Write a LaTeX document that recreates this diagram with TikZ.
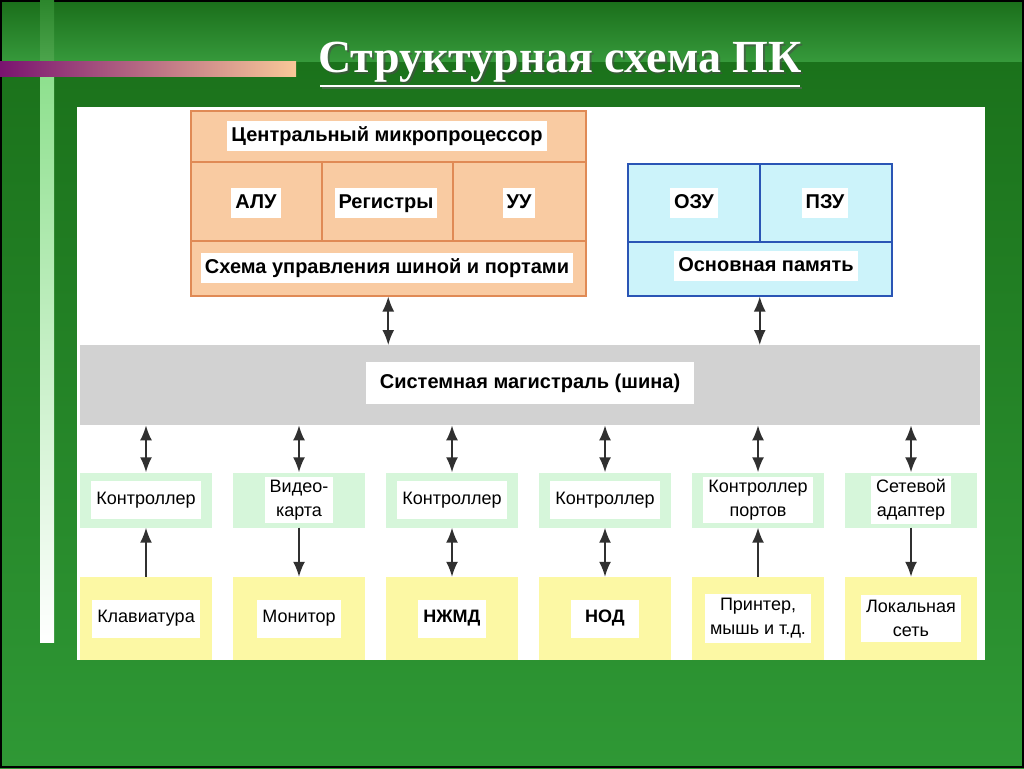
\documentclass[tikz,border=0pt]{standalone}
\usepackage{fontspec}
\setmainfont{Liberation Sans}
\newfontfamily\titlefont{Liberation Serif}
\usetikzlibrary{arrows.meta}
\definecolor{bgTop}{HTML}{1B721B}
\definecolor{bgBot}{HTML}{2F9835}
\definecolor{bandA}{HTML}{1A6E1A}
\definecolor{bandB}{HTML}{36993B}
\definecolor{cpufill}{HTML}{F9CBA2}
\definecolor{cpuline}{HTML}{E08A55}
\definecolor{memfill}{HTML}{CCF3FA}
\definecolor{memline}{HTML}{2A55B5}
\definecolor{busfill}{HTML}{D2D2D2}
\definecolor{ctlfill}{HTML}{D6F6DA}
\definecolor{devfill}{HTML}{FCF8A4}
\definecolor{arr}{HTML}{303030}
\definecolor{purp}{HTML}{7A1470}
\definecolor{peach}{HTML}{F8C898}
\definecolor{vbarTop}{HTML}{2C862C}
\definecolor{vbarMid}{HTML}{4CA54C}
\definecolor{vbarLow}{HTML}{8EE08E}
\tikzset{
  cpubox/.style={draw=cpuline, line width=1.5pt, fill=cpufill, anchor=north west, inner sep=0pt},
  membox/.style={draw=memline, line width=1.5pt, fill=memfill, anchor=north west, inner sep=0pt},
  busbox/.style={fill=busfill, anchor=north west, inner sep=0pt},
  ctlbox/.style={fill=ctlfill, minimum width=132pt, minimum height=55pt, inner sep=0pt},
  devbox/.style={fill=devfill, minimum width=132pt, minimum height=83pt, inner sep=0pt},
  lbl/.style={fill=white, inner xsep=4pt, inner ysep=5pt, text height=15pt, text depth=5pt, font=\fontsize{20}{22}\selectfont\bfseries, text=black},
  slbl/.style={fill=white, inner xsep=5pt, inner ysep=10pt, text height=13pt, text depth=5pt, font=\fontsize{18}{23}\selectfont, text=black},
  mlbl/.style={fill=white, inner xsep=5pt, inner ysep=3pt, font=\fontsize{18}{24}\selectfont, text=black, align=center},
  conn/.style={draw=arr, line width=1.8pt},
  both/.style={conn, {Latex[length=15pt,width=12pt]}-{Latex[length=15pt,width=12pt]}},
  up/.style={conn, -{Latex[length=15pt,width=12pt]}},
}
\begin{document}
\begin{tikzpicture}[x=1pt,y=-1pt]
\useasboundingbox (0,0) rectangle (1024,768);
% background
\shade[top color=bgTop, bottom color=bgBot] (0,61) rectangle (1024,768);
\shade[top color=bandA, bottom color=bandB] (0,0) rectangle (1024,61);
\draw[black, line width=2pt] (1,1) rectangle (1023,767);
% decorative bars
\shade[top color=vbarTop, bottom color=vbarMid] (40,0) rectangle (54,61);
\shade[top color=vbarLow, bottom color=white] (40,76) rectangle (54,642);
\shade[left color=purp, right color=peach] (0,61) rectangle (296,76);
% title
\node[font=\fontsize{46}{50}\selectfont\titlefont\bfseries, text=black!70, opacity=0.6] at (562,64) {Структурная схема ПК};
\node[font=\fontsize{46}{50}\selectfont\titlefont\bfseries, text=white] (title) at (560,62) {Структурная схема ПК};
\draw[black!60, opacity=0.6, line width=2pt] (322,88) -- (802,88);
\draw[white, line width=2pt] (320,86) -- (800,86);
% white panel
\fill[white] (77,107) rectangle (985,660);
% CPU
\node[cpubox, minimum width=395pt, minimum height=185pt] (cpu) at (190,110) {};
\draw[cpuline, line width=1.5pt] (190,162) -- (585,162) (190,241) -- (585,241) (322,162) -- (322,241) (453,162) -- (453,241);
\node[lbl] (cpuT) at (387,136) {Центральный микропроцессор};
\node[lbl] (alu) at (256,203) {АЛУ};
\node[lbl] (reg) at (386,203) {Регистры};
\node[lbl] (uu) at (519,203) {УУ};
\node[lbl] (sch) at (387,268) {Схема управления шиной и портами};
% memory
\node[membox, minimum width=264pt, minimum height=132pt] (mem) at (627,163) {};
\draw[memline, line width=1.5pt] (627,242) -- (891,242) (760,163) -- (760,242);
\node[lbl] (ozu) at (694,203) {ОЗУ};
\node[lbl] (pzu) at (825,203) {ПЗУ};
\node[lbl] (osn) at (766,266) {Основная память};
% bus
\node[busbox, minimum width=900pt, minimum height=80pt] (bus) at (80,345) {};
\node[lbl, inner xsep=14pt, inner ysep=11pt] (busl) at (530,383) {Системная магистраль (шина)};
\draw[both] (cpu.south) -- (cpu.south |- bus.north);
\draw[both] (mem.south) -- (mem.south |- bus.north);
% controllers
\node[ctlbox] (c1) at (146,500) {};
\node[ctlbox] (c2) at (299,500) {};
\node[ctlbox] (c3) at (452,500) {};
\node[ctlbox] (c4) at (605,500) {};
\node[ctlbox] (c5) at (758,500) {};
\node[ctlbox] (c6) at (911,500) {};
\node[slbl] at (c1) {Контроллер};
\node[mlbl] at (c2) {Видео-\\карта};
\node[slbl] at (c3) {Контроллер};
\node[slbl] at (c4) {Контроллер};
\node[mlbl] at (c5) {Контроллер\\портов};
\node[mlbl] at (c6) {Сетевой\\адаптер};
% devices
\node[devbox] (d1) at (146,618.5) {};
\node[devbox] (d2) at (299,618.5) {};
\node[devbox] (d3) at (452,618.5) {};
\node[devbox] (d4) at (605,618.5) {};
\node[devbox] (d5) at (758,618.5) {};
\node[devbox] (d6) at (911,618.5) {};
\node[slbl] at (d1) {Клавиатура};
\node[slbl] at (d2) {Монитор};
\node[slbl, font=\fontsize{18}{23}\selectfont\bfseries] at (d3) {НЖМД};
\node[slbl, inner xsep=14pt, font=\fontsize{18}{23}\selectfont\bfseries] at (d4) {НОД};
\node[mlbl, inner ysep=5pt] at (d5) {Принтер,\\мышь и т.д.};
\node[mlbl, inner ysep=5pt] at (d6) {Локальная\\сеть};
% bus to controllers
\foreach \c in {c1,c2,c3,c4,c5,c6}{
  \draw[both] (\c.north |- bus.south) -- (\c.north);
}
% controllers to devices
\draw[up] (d1.north) -- (c1.south);
\draw[up] (c2.south) -- (d2.north);
\draw[both] (c3.south) -- (d3.north);
\draw[both] (c4.south) -- (d4.north);
\draw[up] (d5.north) -- (c5.south);
\draw[up] (c6.south) -- (d6.north);
\end{tikzpicture}
\end{document}
